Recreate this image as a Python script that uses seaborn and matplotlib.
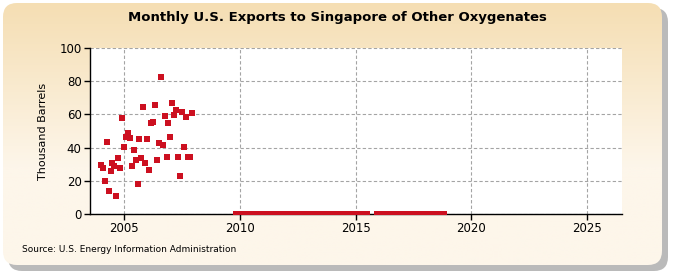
import numpy as np
import pandas as pd
import matplotlib
matplotlib.use("Agg")
import matplotlib.pyplot as plt
import seaborn as sns
from matplotlib.patches import FancyBboxPatch

# ---- data ----
title = "Monthly U.S. Exports to Singapore of Other Oxygenates"
ylabel = "Thousand Barrels"
source = "Source: U.S. Energy Information Administration"

early_start = "2004-01"
early_values = [29.5, 27.9, 19.9, 43.6, 14.1, 26.1, 30.7, 29.1, 11.0, 33.9, 27.9, 58.0,
                40.5, 46.4, 48.8, 46.0, 29.1, 38.7, 32.7, 17.9, 45.0, 33.9, 64.6, 30.9,
                45.0, 26.7, 54.8, 55.6, 65.9, 32.7, 43.0, 82.7, 41.8, 58.8, 34.5, 55.0,
                46.6, 67.1, 59.8, 62.8, 34.5, 23.1, 61.6, 40.5, 58.6, 34.5, 34.5, 61.0]

zero_start = "2009-11"
zero_end = "2018-11"
zero_missing = ["2010-03", "2010-11", "2011-07", "2012-01", "2012-07", "2012-10",
                "2013-02", "2013-09", "2014-02", "2014-07", "2015-08", "2015-09",
                "2015-10", "2015-11", "2017-03", "2017-10", "2018-04", "2018-08"]

xticks = [2005, 2010, 2015, 2020, 2025]
yticks = [0, 20, 40, 60, 80, 100]

# ---- build table ----
early_months = pd.period_range(early_start, periods=len(early_values), freq="M")
zero_months = [p for p in pd.period_range(zero_start, zero_end, freq="M")
               if str(p) not in zero_missing]
df = pd.DataFrame({
    "month": list(early_months) + zero_months,
    "value": early_values + [0.0] * len(zero_months),
})
df["x"] = [p.year + (p.month - 1) / 12 for p in df["month"]]

# ---- figure ----
fig = plt.figure(figsize=(6.75, 2.75), dpi=100)
fig.patch.set_facecolor("white")

bg = fig.add_axes([0, 0, 1, 1], zorder=-10)
bg.set_xlim(0, 675)
bg.set_ylim(275, 0)
bg.axis("off")
shadow = FancyBboxPatch((8, 8), 660, 263, boxstyle="round,pad=0,rounding_size=14",
                        facecolor="#a9a9a9", edgecolor="none", alpha=0.8)
bg.add_patch(shadow)
box = FancyBboxPatch((3, 3), 659, 262, boxstyle="round,pad=0,rounding_size=14",
                     facecolor="none", edgecolor="none")
bg.add_patch(box)
c_top = np.array([245, 222, 179]) / 255
c_bot = np.array([253, 246, 234]) / 255
t = np.linspace(0, 1, 256)[:, None]
t = np.clip(t * 1.6, 0, 1)
grad = (c_top[None, None, :] * (1 - t[..., None]) + c_bot[None, None, :] * t[..., None])
grad = np.repeat(grad, 2, axis=1)
im = bg.imshow(grad, extent=[3, 662, 265, 3], aspect="auto", zorder=1)
im.set_clip_path(box)

ax = fig.add_axes([90 / 675, 1 - 214 / 275, (622 - 90) / 675, (214 - 48) / 275])
ax.set_facecolor("white")
sns.scatterplot(data=df, x="x", y="value", ax=ax, marker="s", s=19,
                color="#cc1020", linewidth=0, zorder=3, clip_on=True)

ax.set_xlim(2003.53, 2026.5)
ax.set_ylim(0, 100)
ax.set_xticks(xticks)
ax.set_yticks(yticks)
ax.set_xticklabels([str(v) for v in xticks], fontsize=8.5)
ax.set_yticklabels([str(v) for v in yticks], fontsize=8.5)
ax.grid(True, linestyle=(0, (3, 2)), color="#a4a4a4", linewidth=0.8, zorder=0)
ax.set_axisbelow(True)
for s in ["top", "right"]:
    ax.spines[s].set_visible(False)
for s in ["left", "bottom"]:
    ax.spines[s].set_color("black")
    ax.spines[s].set_linewidth(1.0)
ax.tick_params(axis="both", length=4, width=1, color="black", pad=2)
ax.set_xlabel("")
ax.set_ylabel(ylabel, fontsize=8, labelpad=8)

fig.text(0.5, 1 - 17 / 275, title, ha="center", va="center",
         fontsize=9.5, fontweight="bold")
fig.text(22 / 675, 1 - 250 / 275, source, ha="left", va="center", fontsize=6.5)

fig.savefig("out.png", dpi=100)
